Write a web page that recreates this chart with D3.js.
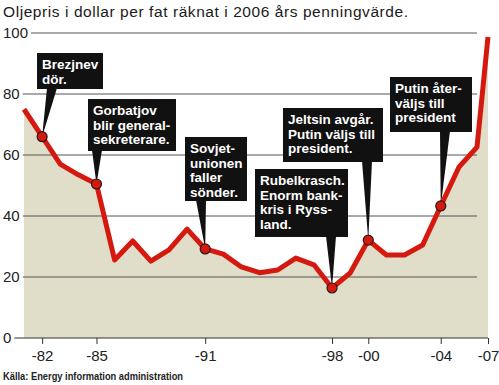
<!DOCTYPE html>
<html>
<head>
<meta charset="utf-8">
<script src="https://cdn.jsdelivr.net/npm/d3@7"></script>
<style>
  body { margin: 0; background: #fff; }
  text { font-family: "Liberation Sans", Arial, sans-serif; }
</style>
</head>
<body>
<script>
let w = 499,
  h = 385;

// oljepris, 2006 års dollar
const years = [1981,1982,1983,1984,1985,1986,1987,1988,1989,1990,1991,1992,1993,1994,
  1995,1996,1997,1998,1999,2000,2001,2002,2003,2004,2005,2006,2007];
const prices = [75,66,57,53.5,50.5,25.6,31.8,25.2,28.9,35.7,29.2,27.5,23.3,21.4,
  22.3,26.2,24,16.4,21.3,32.1,27.2,27.2,30.5,43.3,56,62.6,98.7];

const yTicks = [0,20,40,60,80,100];
const xTickYears = [1982,1985,1991,1998,2000,2004,2007];
const xTickLabels = ["-82","-85","-91","-98","-00","-04","-07"];

// händelser
const eventYears = [1982,1985,1991,1998,2000,2004];
const eventTexts = [
  ["Brezjnev","dör."],
  ["Gorbatjov","blir general-","sekreterare."],
  ["Sovjet-","unionen","faller","sönder."],
  ["Rubelkrasch.","Enorm bank-","kris i Ryss-","land."],
  ["Jeltsin avgår.","Putin väljs till","president."],
  ["Putin åter-","väljs till","president"]
];
// rutornas placering: x, y, bredd, höjd, pilens bas (x)
const boxes = [
  [37,53,66,36,52],
  [88,99,88,52,97],
  [185,137,62,64,201],
  [255,169,93,68,331],
  [283,108,100,54,367],
  [390,77,82,55,445]
];

const x = d3.scaleLinear()
  .domain([1981,2006,2007])
  .range([24,477,488]);

const y = d3.scaleLinear()
  .domain([0,100])
  .range([338,33]);

const svg = d3.select("body")
  .append("svg")
  .attr("width",w)
  .attr("height",h);

svg.append("text")
  .attr("x",3)
  .attr("y",17)
  .attr("font-size",15.5)
  .attr("fill","#1a1a1a")
  .attr("textLength",405)
  .attr("lengthAdjust","spacing")
  .text("Oljepris i dollar per fat räknat i 2006 års penningvärde.");

const data = years.map(function(d,i){ return [d,prices[i]]; });

svg.append("path")
  .datum(data)
  .attr("fill","#e0ddc8")
  .attr("d",d3.area()
    .x(function(d){ return x(d[0]); })
    .y0(y(0))
    .y1(function(d){ return y(d[1]); }));

// gridlines + y labels
const yl = svg.append("g");
yTicks.forEach(function(t){
  const lab = yl.append("text")
    .attr("x",3)
    .attr("y",y(t))
    .attr("dy","0.36em")
    .attr("font-size",15)
    .attr("fill","#222")
    .text(t);
  const tw = lab.node().getComputedTextLength();
  yl.append("line")
    .attr("x1",3+tw+3)
    .attr("x2",t===0 ? 488 : 477)
    .attr("y1",y(t))
    .attr("y2",y(t))
    .attr("stroke",t===0 ? "#333" : "#555")
    .attr("stroke-width",t===0 ? 1.2 : 1);
});

const xa = svg.append("g")
  .attr("transform","translate(0,"+y(0)+")")
  .call(d3.axisBottom(x)
    .tickValues(xTickYears)
    .tickSize(6)
    .tickFormat(function(d,i){ return xTickLabels[i]; }));
xa.select(".domain").remove();
xa.selectAll("line").attr("stroke","#333");
xa.selectAll("text")
  .attr("font-size",15)
  .attr("fill","#222")
  .attr("font-family","Liberation Sans, Arial, sans-serif")
  .attr("dy","0.95em");

// boxes and pointers
const ann = svg.append("g");
eventYears.forEach(function(yr,i){
  const b = boxes[i];
  const v = prices[years.indexOf(yr)];
  const tx = x(yr), ty = y(v);
  ann.append("path")
    .attr("fill","#111")
    .attr("d","M"+(b[4]-5)+","+(b[1]+b[3]-1)+"L"+(b[4]+5)+","+(b[1]+b[3]-1)+"L"+tx+","+ty+"Z");
  ann.append("rect")
    .attr("x",b[0]).attr("y",b[1])
    .attr("width",b[2]).attr("height",b[3])
    .attr("fill","#111");
  eventTexts[i].forEach(function(s,j){
    ann.append("text")
      .attr("x",b[0]+5)
      .attr("y",b[1]+16+j*14.5)
      .attr("font-size",13.5)
      .attr("font-weight","bold")
      .attr("fill","#fff")
      .text(s);
  });
});

svg.append("path")
  .datum(data)
  .attr("fill","none")
  .attr("stroke","#d6190e")
  .attr("stroke-width",5)
  .attr("stroke-linejoin","round")
  .attr("d",d3.line()
    .x(function(d){ return x(d[0]); })
    .y(function(d){ return y(d[1]); }));

svg.selectAll("circle")
  .data(eventYears)
  .enter()
  .append("circle")
  .attr("cx",function(d){ return x(d); })
  .attr("cy",function(d){ return y(prices[years.indexOf(d)]); })
  .attr("r",5)
  .attr("fill","#d6190e")
  .attr("stroke","#2a1a1a")
  .attr("stroke-width",1.2);

svg.append("text")
  .attr("x",3)
  .attr("y",380)
  .attr("font-size",10)
  .attr("font-weight","bold")
  .attr("fill","#222")
  .attr("textLength",180)
  .attr("lengthAdjust","spacingAndGlyphs")
  .text("Källa: Energy information administration");
</script>
</body>
</html>
